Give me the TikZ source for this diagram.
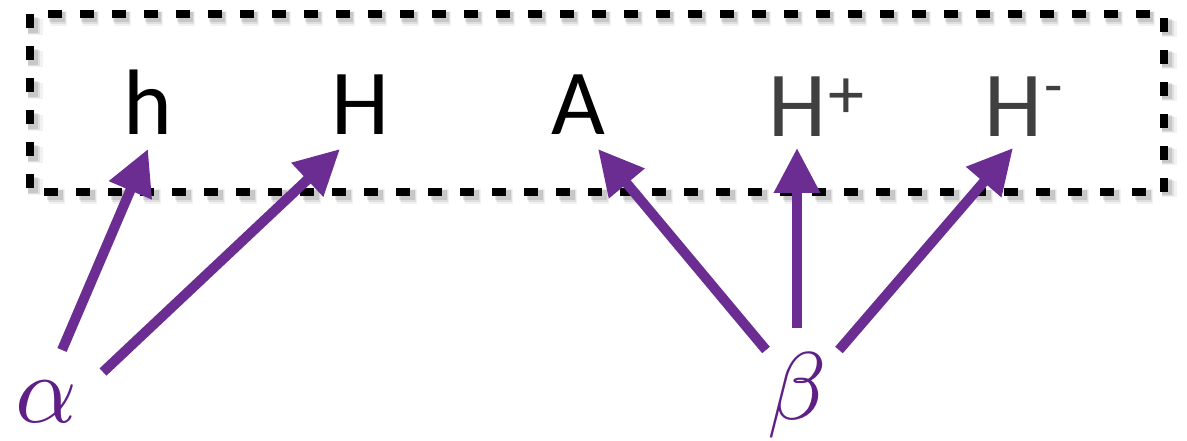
\documentclass[tikz,border=0pt]{standalone}
\usepackage{graphicx}
\usepackage{fontspec}
\newfontfamily\labelfont{Carlito}
\usetikzlibrary{arrows.meta}
\definecolor{arrowpurple}{HTML}{6B2D91}
\definecolor{greekpurple}{HTML}{5E1F86}
\definecolor{darkgraytext}{HTML}{404040}
\tikzset{
  particle/.style={anchor=base, inner sep=0pt, font=\labelfont\fontsize{93}{93}\selectfont},
  greek/.style={inner sep=0pt, text=greekpurple},
  mixarrow/.style={draw=arrowpurple, line width=10pt, line cap=butt,
    -{Triangle[length=45pt,width=44pt]}, arrowpurple},
  boxline/.style={line width=7.5pt, dash pattern=on 14pt off 18pt},
}
% raised charge sign: #1 raise, #2 size, #3 sign
\newcommand{\chargemark}[3]{\kern2pt\raisebox{#1}{\fontsize{#2}{#2}\selectfont #3}}
\newcommand{\biggreek}[1]{\scalebox{9.6}{$#1$}}
\begin{document}
\begin{tikzpicture}[x=1pt, y=-1pt]
  \useasboundingbox (0,0) rectangle (1187,441);

  % soft shadow under the dashed frame
  \foreach \o/\w/\a in {5/15/0.05, 4/12/0.08, 3/10/0.11}{
    \draw[black, opacity=\a, line width=\w pt, dash pattern=on 16pt off 16pt]
      (30+\o,14+\o) rectangle (1164+\o,192+\o);
  }
  % dashed frame around the particle states
  \draw[boxline] (30,14) rectangle (1164,192);

  % physical Higgs states
  \node[particle] (h)  at (148,135) {h};
  \node[particle] (H)  at (360,135) {H};
  \node[particle] (A)  at (578,135) {A};
  \node[particle, text=darkgraytext] (Hp) at (816,137) {H\chargemark{18pt}{72}{+}};
  \node[particle, text=darkgraytext] (Hm) at (1024,137) {H\chargemark{31pt}{60}{-}};

  % mixing angles
  \node[greek] (alpha) at (46,402) {\biggreek{\alpha}};
  \node[greek] (beta)  at (797,395) {\biggreek{\beta}};

  % arrow ends
  \coordinate (a1) at (62,350);
  \coordinate (a2) at (103,372);
  \coordinate (b1) at (766,350);
  \coordinate (b2) at (797,328);
  \coordinate (b3) at (839,350);
  \coordinate (th)  at (148,149);
  \coordinate (tH)  at (340,149);
  \coordinate (tA)  at (598,149);
  \coordinate (tHp) at (797,148);
  \coordinate (tHm) at (1013,148);

  \draw[mixarrow] (a1) -- (th);
  \draw[mixarrow] (a2) -- (tH);
  \draw[mixarrow] (b1) -- (tA);
  \draw[mixarrow] (b2) -- (tHp);
  \draw[mixarrow] (b3) -- (tHm);
\end{tikzpicture}
\end{document}
